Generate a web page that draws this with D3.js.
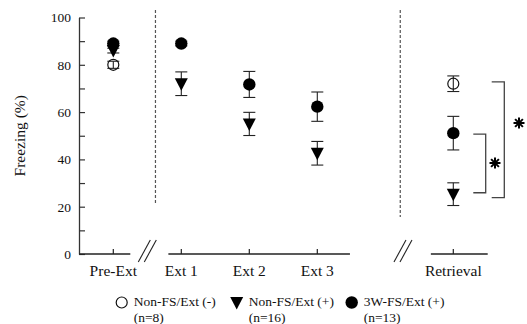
<!DOCTYPE html>
<html>
<head>
<meta charset="utf-8">
<script src="https://cdn.jsdelivr.net/npm/d3@7"></script>
<style>
body { margin: 0; background: #fff; }
</style>
</head>
<body>
<div id="chart"></div>
<script>
var w = 527;
var h = 324;
var serif = "'Liberation Serif', 'Times New Roman', Times, 'DejaVu Serif', serif";

// sessions (position index along the broken x axis)
var sessions = ["Pre-Ext", "Ext 1", "Ext 2", "Ext 3", "Retrieval"];
var sessionPos = [0, 1, 2, 3, 5];

// freezing (%) means and SEM
var nonFsMinus = [80, null, null, null, 72];
var nonFsMinusErr = [1.5, null, null, null, 3.3];
var nonFsPlus = [86, 72, 55, 42.6, 25.3];
var nonFsPlusErr = [1, 5, 4.9, 5, 4.8];
var fs3w = [89, 89, 71.7, 62.3, 51.1];
var fs3wErr = [1, 1, 5.5, 6.2, 7.1];

var groups = ["Non-FS/Ext (-)", "Non-FS/Ext (+)", "3W-FS/Ext (+)"];
var groupN = ["(n=8)", "(n=16)", "(n=13)"];

// significance brackets: [top value, bottom value]
var brackets = [[72.8, 23.8], [50.7, 25.9]];

var yTicks = [0, 10, 20, 30, 40, 50, 60, 70, 80, 90, 100];

var x = d3.scaleLinear().domain([0, 5]).range([113.3, 453.3]);
var y = d3.scaleLinear().domain([0, 100]).range([254, 17.5]);

var svg = d3.select("#chart").append("svg");
svg.attr("width", w);
svg.attr("height", h);
svg.attr("font-family", serif);

// y axis
var yAxis = d3.axisLeft(y)
  .tickValues(yTicks)
  .tickSize(-6)
  .tickSizeOuter(0)
  .tickPadding(8)
  .tickFormat(function(d) { return d % 20 === 0 ? d : ""; });

var gy = svg.append("g")
  .attr("transform", "translate(79,0)")
  .call(yAxis)
  .attr("font-family", serif)
  .attr("font-size", 13.5);
gy.select(".domain").attr("stroke", "#333").attr("stroke-width", 1.3);
gy.selectAll(".tick line").attr("stroke", "#333").attr("stroke-width", 1.2);
gy.selectAll(".tick text").attr("fill", "#111");

svg.append("text")
  .attr("transform", "translate(25," + y(50) + ") rotate(-90)")
  .attr("text-anchor", "middle")
  .attr("font-family", serif)
  .attr("font-size", 15.5)
  .attr("fill", "#111")
  .text("Freezing (%)");

// broken x axis
var segments = [[-0.5, 0.25], [0.81, 3.48], [4.67, 5.506]];
svg.selectAll("line.seg")
  .data(segments)
  .enter()
  .append("line")
  .attr("class", "seg")
  .attr("x1", function(d) { return x(d[0]); })
  .attr("x2", function(d) { return x(d[1]); })
  .attr("y1", y(0))
  .attr("y2", y(0))
  .attr("stroke", "#222")
  .attr("stroke-width", 1.4);

svg.selectAll("line.xtick")
  .data(sessionPos)
  .enter()
  .append("line")
  .attr("class", "xtick")
  .attr("x1", function(d) { return x(d); })
  .attr("x2", function(d) { return x(d); })
  .attr("y1", y(0))
  .attr("y2", y(0) - 5)
  .attr("stroke", "#222")
  .attr("stroke-width", 1.2);

svg.selectAll("text.xlab")
  .data(sessions)
  .enter()
  .append("text")
  .attr("class", "xlab")
  .attr("x", function(d, i) { return x(sessionPos[i]); })
  .attr("y", y(0) + 22)
  .attr("text-anchor", "middle")
  .attr("font-family", serif)
  .attr("font-size", 15.5)
  .attr("fill", "#111")
  .text(function(d) { return d; });

// axis break marks "//"
var breaks = [0.5, 4.26];
breaks.forEach(function(b) {
  [-3, 3].forEach(function(off) {
    svg.append("line")
      .attr("x1", x(b) + off - 6)
      .attr("y1", y(0) + 8)
      .attr("x2", x(b) + off + 6)
      .attr("y2", y(0) - 14)
      .attr("stroke", "#222")
      .attr("stroke-width", 1.1);
  });
});

// dashed separators
var separators = [[0.62, 21], [4.22, 15.6]];
svg.selectAll("line.sep")
  .data(separators)
  .enter()
  .append("line")
  .attr("class", "sep")
  .attr("x1", function(d) { return x(d[0]); })
  .attr("x2", function(d) { return x(d[0]); })
  .attr("y1", 10)
  .attr("y2", function(d) { return y(d[1]); })
  .attr("stroke", "#555")
  .attr("stroke-width", 1.2)
  .attr("stroke-dasharray", "3,2");

// series
var series = [
  { vals: nonFsMinus, err: nonFsMinusErr, shape: "open" },
  { vals: nonFsPlus, err: nonFsPlusErr, shape: "tri" },
  { vals: fs3w, err: fs3wErr, shape: "dot" }
];

function drawMarker(g, shape, cx, cy) {
  if (shape === "open") {
    g.append("circle").attr("cx", cx).attr("cy", cy).attr("r", 5.5)
      .attr("fill", "none").attr("stroke", "#111").attr("stroke-width", 1.2);
  } else if (shape === "dot") {
    g.append("circle").attr("cx", cx).attr("cy", cy).attr("r", 6.2)
      .attr("fill", "#000");
  } else {
    g.append("path")
      .attr("d", "M" + (cx - 6.5) + "," + (cy - 5.5) + "L" + (cx + 6.5) + "," + (cy - 5.5) + "L" + cx + "," + (cy + 7) + "Z")
      .attr("fill", "#000");
  }
}

series.forEach(function(s) {
  var g = svg.append("g");
  s.vals.forEach(function(v, i) {
    if (v === null) return;
    var cx = x(sessionPos[i]);
    var e = s.err[i];
    g.append("line")
      .attr("x1", cx).attr("x2", cx)
      .attr("y1", y(v + e)).attr("y2", y(v - e))
      .attr("stroke", "#222").attr("stroke-width", 1.1);
    [v + e, v - e].forEach(function(c) {
      g.append("line")
        .attr("x1", cx - 6).attr("x2", cx + 6)
        .attr("y1", y(c)).attr("y2", y(c))
        .attr("stroke", "#222").attr("stroke-width", 1.1);
    });
  });
  s.vals.forEach(function(v, i) {
    if (v === null) return;
    drawMarker(g, s.shape, x(sessionPos[i]), y(v));
  });
});

// significance brackets
var bx = [[473.3, 485.7], [491.7, 504.3]];
var starPos = [[495, 163], [519, 123]];
function drawStar(cx, cy) {
  var r = 5.5;
  [0, 45, 90, 135].forEach(function(a) {
    var t = a * Math.PI / 180;
    svg.append("line")
      .attr("x1", cx - r * Math.cos(t)).attr("y1", cy - r * Math.sin(t))
      .attr("x2", cx + r * Math.cos(t)).attr("y2", cy + r * Math.sin(t))
      .attr("stroke", "#000").attr("stroke-width", 2);
  });
}
[brackets[1], brackets[0]].forEach(function(b, i) {
  var x0 = bx[i][0], x1 = bx[i][1];
  svg.append("path")
    .attr("d", "M" + x0 + "," + y(b[0]) + "H" + x1 + "V" + y(b[1]) + "H" + x0)
    .attr("fill", "none")
    .attr("stroke", "#444")
    .attr("stroke-width", 1.3);
  drawStar(starPos[i][0], starPos[i][1]);
});

// legend
var legendX = [121.7, 236.7, 351.7];
var shapes = ["open", "tri", "dot"];
groups.forEach(function(gname, i) {
  var g = svg.append("g");
  drawMarker(g, shapes[i], legendX[i], 302.5);
  g.append("text")
    .attr("x", legendX[i] + 12)
    .attr("y", 305.5)
    .attr("font-family", serif)
    .attr("font-size", 13.5)
    .attr("fill", "#111")
    .text(gname);
  g.append("text")
    .attr("x", legendX[i] + 12)
    .attr("y", 321.5)
    .attr("font-family", serif)
    .attr("font-size", 13.5)
    .attr("fill", "#111")
    .text(groupN[i]);
});
</script>
</body>
</html>
